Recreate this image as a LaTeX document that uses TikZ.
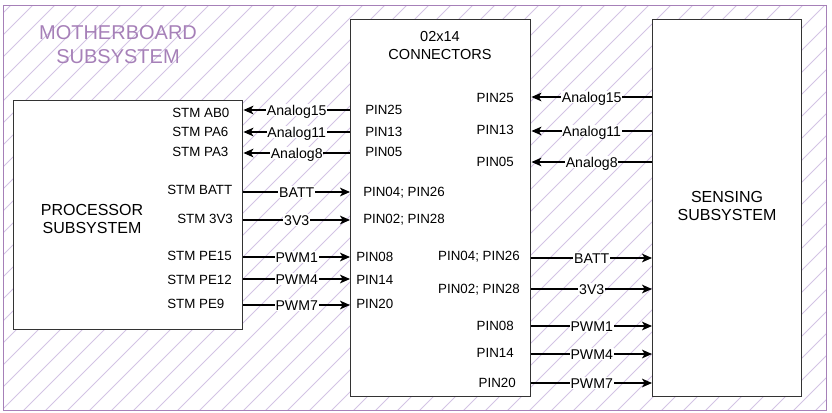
\documentclass[tikz,border=0pt]{standalone}
\usepackage{fontspec}
\setmainfont{Liberation Sans}
\usetikzlibrary{arrows.meta}
\definecolor{purp}{HTML}{A680B8}
\definecolor{hatchc}{HTML}{D3C4E4}
\definecolor{boxc}{HTML}{333333}
\begin{document}
\begin{tikzpicture}[x=0.75pt,y=-0.75pt,
  box/.style={draw=boxc, line width=1.1pt, fill=white, anchor=north west, inner sep=0pt},
  boxtxt/.style={align=center, font=\fontsize{10.9}{13.5}\selectfont, inner sep=0pt},
  bigtxt/.style={align=center, font=\fontsize{12}{13.5}\selectfont, inner sep=0pt},
  pin/.style={inner sep=0pt, font=\fontsize{10}{12}\selectfont, text height=7.2pt, text depth=0pt},
  elbl/.style={fill=white, inner sep=0.6pt, font=\fontsize{10.6}{12}\selectfont, text height=7.6pt, text depth=0pt},
  arr/.style={draw=black, line width=0.9pt, -{Stealth[length=7.5pt,width=6.5pt,inset=2pt]}}]
\useasboundingbox (0,0) rectangle (832,412);
% hatched background
\begin{scope}
\clip (3,5) rectangle (826,410);
\foreach \i in {-440,-418,...,840} \draw[hatchc, line width=0.65pt] (\i,412) -- ++(430,-430);
\end{scope}
\node[draw=purp, line width=1.1pt, anchor=north west, inner sep=0pt, minimum width=617.25pt, minimum height=303.75pt] (mb) at (3,5) {};
\node[text=purp, align=center, font=\fontsize{15}{18}\selectfont, inner sep=0pt] (mbtitle) at (118,45) {MOTHERBOARD\\SUBSYSTEM};
% boxes
\node[box, minimum width=171.75pt, minimum height=171.75pt] (proc) at (13,100) {};
\node[box, minimum width=135pt, minimum height=282.75pt] (conn) at (350,19) {};
\node[box, minimum width=111.75pt, minimum height=282.75pt] (sens) at (652,19) {};
\node[bigtxt] (proctxt) at (92,219) {PROCESSOR\\SUBSYSTEM};
\node[boxtxt] (conntxt) at (440,45) {02x14\\CONNECTORS};
\node[bigtxt] (senstxt) at (727,206) {SENSING\\SUBSYSTEM};
% processor pins
\node[pin, anchor=west] (sab0) at (172,113) {STM AB0};
\node[pin, anchor=west] (spa6) at (172,132) {STM PA6};
\node[pin, anchor=west] (spa3) at (172,152) {STM PA3};
\node[pin, anchor=west] (sbatt) at (167,190) {STM BATT};
\node[pin, anchor=west] (s3v3) at (177,219) {STM 3V3};
\node[pin, anchor=west] (spe15) at (167,256) {STM PE15};
\node[pin, anchor=west] (spe12) at (167,280) {STM PE12};
\node[pin, anchor=west] (spe9) at (167,304) {STM PE9};
% connector left pins
\node[pin, anchor=west] (cl25) at (365,110) {PIN25};
\node[pin, anchor=west] (cl13) at (365,132) {PIN13};
\node[pin, anchor=west] (cl05) at (365,152) {PIN05};
\node[pin, anchor=west] (cl04) at (363,192) {PIN04; PIN26};
\node[pin, anchor=west] (cl02) at (363,219) {PIN02; PIN28};
\node[pin, anchor=west] (cl08) at (356,257) {PIN08};
\node[pin, anchor=west] (cl14) at (356,280) {PIN14};
\node[pin, anchor=west] (cl20) at (356,304) {PIN20};
% connector right pins
\node[pin, anchor=east] (cr25) at (514,98) {PIN25};
\node[pin, anchor=east] (cr13) at (514,130) {PIN13};
\node[pin, anchor=east] (cr05) at (514,162) {PIN05};
\node[pin, anchor=east] (cr04) at (520,256) {PIN04; PIN26};
\node[pin, anchor=east] (cr02) at (520,289) {PIN02; PIN28};
\node[pin, anchor=east] (cr08) at (514,326) {PIN08};
\node[pin, anchor=east] (cr14) at (514,353) {PIN14};
\node[pin, anchor=east] (cr20) at (516,383) {PIN20};
% left connectors
\draw[arr] (conn.west |- 0,110) -- node[elbl]{Analog15} (proc.east |- 0,110);
\draw[arr] (conn.west |- 0,132) -- node[elbl]{Analog11} (proc.east |- 0,132);
\draw[arr] (conn.west |- 0,153) -- node[elbl]{Analog8} (proc.east |- 0,153);
\draw[arr] (proc.east |- 0,192) -- node[elbl]{BATT} (conn.west |- 0,192);
\draw[arr] (proc.east |- 0,220) -- node[elbl]{3V3} (conn.west |- 0,220);
\draw[arr] (proc.east |- 0,257) -- node[elbl]{PWM1} (conn.west |- 0,257);
\draw[arr] (proc.east |- 0,279) -- node[elbl]{PWM4} (conn.west |- 0,279);
\draw[arr] (proc.east |- 0,305) -- node[elbl]{PWM7} (conn.west |- 0,305);
% right connectors
\draw[arr] (sens.west |- 0,97) -- node[elbl]{Analog15} (conn.east |- 0,97);
\draw[arr] (sens.west |- 0,131) -- node[elbl]{Analog11} (conn.east |- 0,131);
\draw[arr] (sens.west |- 0,162) -- node[elbl]{Analog8} (conn.east |- 0,162);
\draw[arr] (conn.east |- 0,258) -- node[elbl]{BATT} (sens.west |- 0,258);
\draw[arr] (conn.east |- 0,289) -- node[elbl]{3V3} (sens.west |- 0,289);
\draw[arr] (conn.east |- 0,326) -- node[elbl]{PWM1} (sens.west |- 0,326);
\draw[arr] (conn.east |- 0,354) -- node[elbl]{PWM4} (sens.west |- 0,354);
\draw[arr] (conn.east |- 0,383) -- node[elbl]{PWM7} (sens.west |- 0,383);
\end{tikzpicture}
\end{document}
